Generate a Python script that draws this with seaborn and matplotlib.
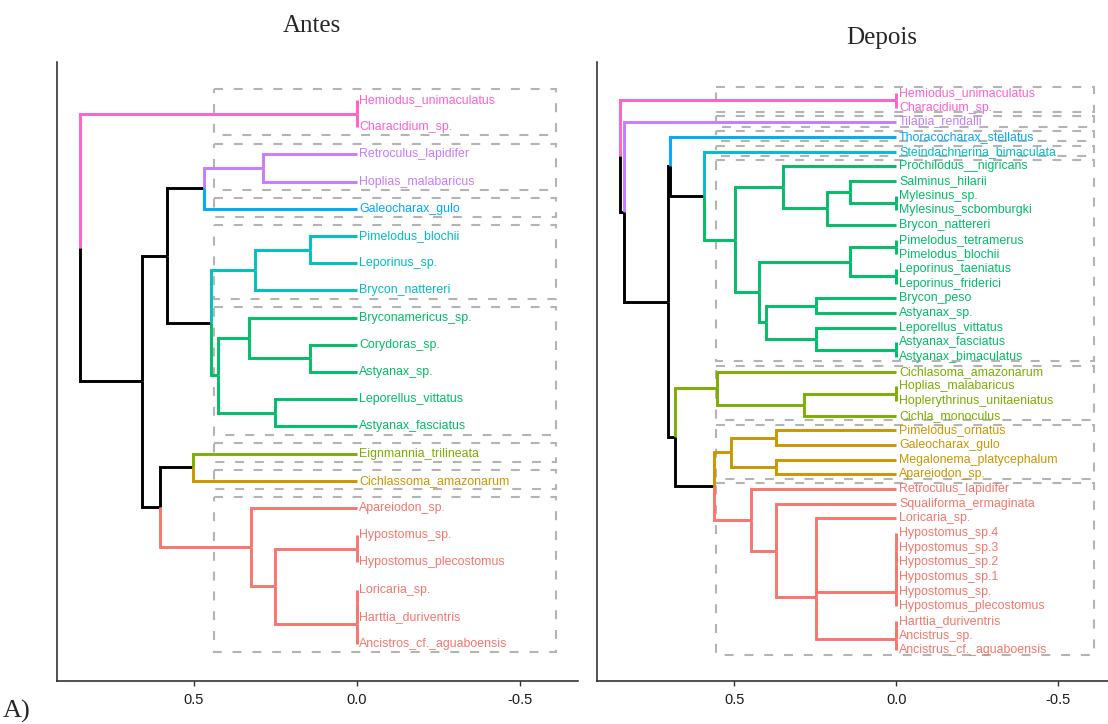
"""
Two cluster dendrograms (Antes / Depois) drawn side by side,
with coloured clusters and dashed boxes around each cluster.
"""

import matplotlib
matplotlib.use("Agg")
import matplotlib.pyplot as plt
import matplotlib.transforms as mtransforms
from matplotlib import font_manager
from matplotlib.patches import Rectangle
import seaborn as sns


# ---------------------------------------------------------------- data
# trees: (merge height, upper child, lower child); leaves are names
ANTES_TREE = (0.850,
    (0.0, "Hemiodus_unimaculatus", "Characidium_sp."),
    (0.660,
        (0.583,
            (0.468,
                (0.287, "Retroculus_lapidifer", "Hoplias_malabaricus"),
                "Galeocharax_gulo"),
            (0.449,
                (0.314, (0.144, "Pimelodus_blochii", "Leporinus_sp."), "Brycon_nattereri"),
                (0.426,
                    (0.332, "Bryconamericus_sp.", (0.144, "Corydoras_sp.", "Astyanax_sp.")),
                    (0.251, "Leporellus_vittatus", "Astyanax_fasciatus")))),
        (0.603,
            (0.503, "Eignmannia_trilineata", "Cichlassoma_amazonarum"),
            (0.326, "Apareiodon_sp.",
                (0.251,
                    (0.0, "Hypostomus_sp.", "Hypostomus_plecostomus"),
                    (0.0, (0.0, "Loricaria_sp.", "Harttia_duriventris"),
                     "Ancistros_cf._aguaboensis"))))))

HYPOSTOMUS_GROUP = (0.0, (0.0, (0.0, (0.0, (0.0, "Hypostomus_sp.4", "Hypostomus_sp.3"),
                                      "Hypostomus_sp.2"), "Hypostomus_sp.1"),
                          "Hypostomus_sp."), "Hypostomus_plecostomus")
ANCISTRUS_GROUP = (0.0, (0.0, "Harttia_duriventris", "Ancistrus_sp."), "Ancistrus_cf._aguaboensis")

DEPOIS_TREE = (0.853,
    (0.0, "Hemiodus_unimaculatus", "Characidium_sp."),
    (0.840,
        "Tilapia_rendalli",
        (0.705,
            (0.699,
                "Thoracocharax_stellatus",
                (0.593,
                    "Steindachnerina_bimaculata",
                    (0.498,
                        (0.351, "Prochilodus__nigricans",
                            (0.215,
                                (0.143, "Salminus_hilarii",
                                 (0.0, "Mylesinus_sp.", "Mylesinus_scbomburgki")),
                                "Brycon_nattereri")),
                        (0.424,
                            (0.143, (0.0, "Pimelodus_tetramerus", "Pimelodus_blochii"),
                                    (0.0, "Leporinus_taeniatus", "Leporinus_friderici")),
                            (0.402,
                                (0.248, "Brycon_peso", "Astyanax_sp."),
                                (0.248, "Leporellus_vittatus",
                                 (0.0, "Astyanax_fasciatus", "Astyanax_bimaculatus"))))))),
            (0.683,
                (0.553, "Cichlasoma_amazonarum",
                    (0.284, (0.0, "Hoplias_malabaricus", "Hoplerythrinus_unitaeniatus"),
                     "Cichla_monoculus")),
                (0.562,
                    (0.510, (0.373, "Pimelodus_ornatus", "Galeocharax_gulo"),
                            (0.372, "Megalonema_platycephalum", "Apareiodon_sp.")),
                    (0.448, "Retroculus_lapidifer",
                        (0.373, "Squaliforma_ermaginata",
                            (0.248,
                                (0.248, "Loricaria_sp.", HYPOSTOMUS_GROUP),
                                ANCISTRUS_GROUP))))))))

N_CLUSTERS = 8
# ggplot hue palette, clusters listed top -> bottom
CLUSTER_COLORS = ["#FF61CC", "#C77CFF", "#00A9FF", "#00BFC4",
                  "#00BE67", "#7CAE00", "#CD9600", "#F8766D"]
TICKS = [0.5, 0.0, -0.5]
TITLES = ["Antes", "Depois"]


# ---------------------------------------------------------------- style
sns.set_theme(style="ticks")
available = {f.name for f in font_manager.fontManager.ttflist}
if "Liberation Sans Narrow" in available:
    LABEL_FONT, LABEL_SIZE, TICK_SIZE = "Liberation Sans Narrow", 10.3, 11.5
else:
    LABEL_FONT, LABEL_SIZE, TICK_SIZE = "Liberation Sans", 8.9, 10.5
plt.rcParams["font.family"] = [LABEL_FONT, "DejaVu Sans"]

BRANCH_LW = 2.1
RECT_RIGHT = -0.61


def layout(node, leaves):
    """Recursive layout: leaves get consecutive rows, nodes sit at children mean."""
    if isinstance(node, str):
        leaves.append(node)
        return {"h": 0.0, "y": float(len(leaves) - 1), "name": node, "kids": []}
    h, a, b = node
    ka = layout(a, leaves)
    kb = layout(b, leaves)
    return {"h": h, "y": (ka["y"] + kb["y"]) / 2, "name": None, "kids": [ka, kb]}


def merge_heights(n):
    if not n["kids"]:
        return []
    out = [n["h"]]
    for k in n["kids"]:
        out += merge_heights(k)
    return out


def leaf_rows(n):
    if not n["kids"]:
        return [n["y"]]
    return leaf_rows(n["kids"][0]) + leaf_rows(n["kids"][1])


def find_clusters(n, cut, out):
    if n["h"] < cut or not n["kids"]:
        out.append(n)
        return
    for k in n["kids"]:
        find_clusters(k, cut, out)


def draw_dendrogram(ax, tree, xlim, ylim):
    leaves = []
    root = layout(tree, leaves)

    hs = sorted(merge_heights(root), reverse=True)
    cut = (hs[N_CLUSTERS - 2] + hs[N_CLUSTERS - 1]) / 2

    clusters = []
    find_clusters(root, cut, clusters)
    colour_of = {}
    for cl, col in zip(clusters, CLUSTER_COLORS):
        def tag(n, col=col):
            colour_of[id(n)] = col
            for k in n["kids"]:
                tag(k)
        tag(cl)

    # dashed boxes around clusters
    for cl in clusters:
        rows = leaf_rows(cl)
        ax.add_patch(Rectangle((cut, min(rows) - 0.4), RECT_RIGHT - cut,
                               max(rows) - min(rows) + 0.7,
                               fill=False, edgecolor="#B4B4B4", lw=1.5,
                               linestyle=(0, (4.3, 5.2)), zorder=1))

    # branches
    def draw(n):
        for k in n["kids"]:
            col = colour_of.get(id(k), "black")
            ax.plot([n["h"], n["h"], k["h"]], [n["y"], k["y"], k["y"]],
                    color=col, lw=BRANCH_LW, solid_joinstyle="miter",
                    solid_capstyle="butt", zorder=2)
            draw(k)
    draw(root)

    # leaf labels
    offset = mtransforms.offset_copy(ax.transData, fig=ax.figure, x=2.5, y=0, units="dots")
    def labels(n):
        if not n["kids"]:
            ax.text(0.0, n["y"], n["name"], transform=offset, ha="left", va="center",
                    color=colour_of.get(id(n), "black"), fontsize=LABEL_SIZE,
                    family=LABEL_FONT, zorder=3)
        for k in n["kids"]:
            labels(k)
    labels(root)

    ax.set_xlim(*xlim)
    ax.set_ylim(*ylim)
    ax.set_xticks(TICKS)
    ax.set_xticklabels([f"{t:.1f}" for t in TICKS])
    ax.set_yticks([])
    ax.tick_params(axis="x", direction="out", length=3.5, width=1, color="#333333",
                   labelsize=TICK_SIZE, labelcolor="#1A1A1A", pad=5)
    for side in ["left", "bottom"]:
        ax.spines[side].set_linewidth(1.1)
        ax.spines[side].set_color("#222222")
    sns.despine(ax=ax)
    ax.set_facecolor("white")
    ax.grid(False)


W, H = 1108, 724
fig = plt.figure(figsize=(W / 100, H / 100), dpi=100)
fig.patch.set_facecolor("white")

ax_a = fig.add_axes([57 / W, 1 - 681 / H, (578 - 57) / W, (681 - 62) / H])
ax_d = fig.add_axes([597 / W, 1 - 681 / H, (1108 - 597) / W, (681 - 62) / H])

draw_dendrogram(ax_a, ANTES_TREE, (0.920, -0.678), (21.36, -1.40))
draw_dendrogram(ax_d, DEPOIS_TREE, (0.924, -0.653), (40.08, -2.11))

serif = ["Liberation Serif", "DejaVu Serif"]
fig.text(312 / W, 1 - 26 / H, TITLES[0], ha="center", va="center", family=serif, fontsize=18)
fig.text(882 / W, 1 - 38 / H, TITLES[1], ha="center", va="center", family=serif, fontsize=18)
fig.text(3 / W, 1 - 711 / H, "A)", ha="left", va="center", family=serif, fontsize=19)

fig.savefig("out.png", dpi=100, facecolor="white")
plt.close(fig)
